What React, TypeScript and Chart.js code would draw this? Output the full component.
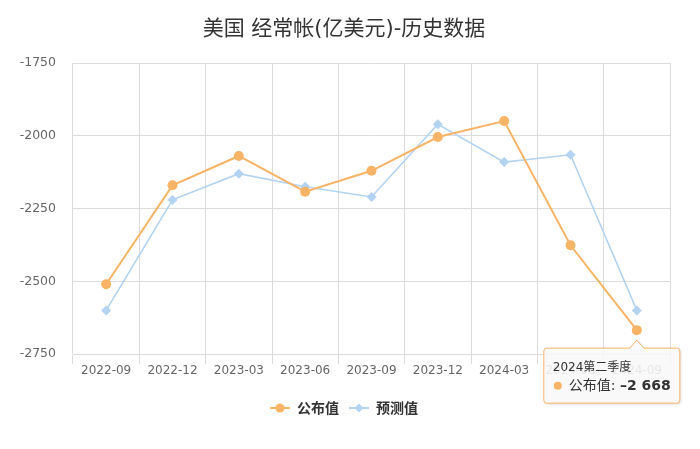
import React, { useEffect, useRef } from "react";
import { Chart, registerables } from "chart.js";

Chart.register(...registerables);

const categories = [
  "2022-09",
  "2022-12",
  "2023-03",
  "2023-06",
  "2023-09",
  "2023-12",
  "2024-03",
  "2024-06",
  "2024-09",
];
const publishedValues = [-2510, -2170, -2069, -2192, -2120, -2004, -1949, -2376, -2668];
const forecastValues = [-2600, -2220, -2130, -2175, -2210, -1960, -2090, -2065, -2600];
const seriesNames = ["公布值", "预测值"];
const yMin = -2750;
const yMax = -1750;
const yStep = 250;
const titleText = "美国 经常帐(亿美元)-历史数据";
const tooltipTitle = "2024第二季度";
const tooltipIndex = 8;

const ORANGE = "#f8b466";
const BLUE = "#b3d3f2";
const GRID = "#dcdcdc";
const LATIN = '"DejaVu Sans", "Noto Sans CJK SC", sans-serif';
const CJK = '"Noto Sans CJK SC", "DejaVu Sans", sans-serif';

function fmt(v: number): string {
  const s = Math.abs(v)
    .toString()
    .replace(/\B(?=(\d{3})+(?!\d))/g, " ");
  return (v < 0 ? "–" : "") + s;
}

function makeIcon(color: string, shape: "circle" | "diamond"): HTMLCanvasElement {
  const c = document.createElement("canvas");
  c.width = 20;
  c.height = 12;
  const ctx = c.getContext("2d")!;
  ctx.strokeStyle = color;
  ctx.lineWidth = 2;
  ctx.beginPath();
  ctx.moveTo(0, 6);
  ctx.lineTo(20, 6);
  ctx.stroke();
  ctx.fillStyle = color;
  ctx.beginPath();
  if (shape === "circle") {
    ctx.arc(10, 6, 4.5, 0, Math.PI * 2);
  } else {
    ctx.moveTo(10, 1.5);
    ctx.lineTo(14.5, 6);
    ctx.lineTo(10, 10.5);
    ctx.lineTo(5.5, 6);
    ctx.closePath();
  }
  ctx.fill();
  return c;
}

const staticTooltip = {
  id: "staticTooltip",
  afterDraw(chart: any) {
    const meta = chart.getDatasetMeta(0);
    const pt = meta.data[tooltipIndex];
    if (!pt) return;
    const x = pt.x;
    const y = pt.y;
    const ctx = chart.ctx as CanvasRenderingContext2D;
    const w = 136;
    const h = 55;
    const left = x - 93;
    const top = y + 18;
    const apexY = y + 10;
    const r = 3;
    ctx.save();
    ctx.beginPath();
    ctx.moveTo(left + r, top);
    ctx.lineTo(x - 7, top);
    ctx.lineTo(x, apexY);
    ctx.lineTo(x + 7, top);
    ctx.lineTo(left + w - r, top);
    ctx.arcTo(left + w, top, left + w, top + r, r);
    ctx.lineTo(left + w, top + h - r);
    ctx.arcTo(left + w, top + h, left + w - r, top + h, r);
    ctx.lineTo(left + r, top + h);
    ctx.arcTo(left, top + h, left, top + h - r, r);
    ctx.lineTo(left, top + r);
    ctx.arcTo(left, top, left + r, top, r);
    ctx.closePath();
    ctx.shadowColor = "rgba(0,0,0,0.18)";
    ctx.shadowOffsetX = 1;
    ctx.shadowOffsetY = 1;
    ctx.shadowBlur = 3;
    ctx.fillStyle = "rgba(254,254,254,0.86)";
    ctx.fill();
    ctx.shadowColor = "transparent";
    ctx.lineWidth = 1;
    ctx.strokeStyle = ORANGE;
    ctx.stroke();

    ctx.textBaseline = "middle";
    ctx.textAlign = "left";
    ctx.fillStyle = "#333";
    ctx.font = `12px ${LATIN}`;
    ctx.fillText(tooltipTitle, left + 9, top + 20);

    ctx.fillStyle = ORANGE;
    ctx.beginPath();
    ctx.arc(left + 14, top + 37.5, 4, 0, Math.PI * 2);
    ctx.fill();

    ctx.fillStyle = "#333";
    ctx.font = `14px ${LATIN}`;
    const label = seriesNames[0] + ": ";
    ctx.fillText(label, left + 25, top + 38);
    const lw = ctx.measureText(label).width;
    ctx.font = `bold 14px ${LATIN}`;
    ctx.fillText(fmt(publishedValues[tooltipIndex]), left + 25 + lw, top + 38);
    ctx.restore();
  },
};

export default function App() {
  const ref = useRef<HTMLCanvasElement | null>(null);

  useEffect(() => {
    document.body.style.margin = "0";
    const canvas = ref.current;
    if (!canvas) return;
    const icons = [makeIcon(ORANGE, "circle"), makeIcon(BLUE, "diamond")];
    const colors = [ORANGE, BLUE];

    const chart = new Chart(canvas, {
      type: "line",
      data: {
        labels: categories,
        datasets: [
          {
            label: seriesNames[0],
            data: publishedValues,
            borderColor: ORANGE,
            backgroundColor: ORANGE,
            borderWidth: 2,
            pointStyle: "circle",
            pointRadius: 5,
            pointBorderWidth: 0,
            pointBackgroundColor: ORANGE,
            tension: 0,
          },
          {
            label: seriesNames[1],
            data: forecastValues,
            borderColor: BLUE,
            backgroundColor: BLUE,
            borderWidth: 1.6,
            pointStyle: "rectRot",
            pointRadius: 5,
            pointBorderWidth: 0,
            pointBackgroundColor: BLUE,
            tension: 0,
          },
        ],
      },
      options: {
        responsive: false,
        animation: false,
        events: [],
        layout: { padding: { left: 18, right: 30, top: 0, bottom: 24 } },
        scales: {
          x: {
            offset: true,
            grid: {
              offset: true,
              color: GRID,
              tickLength: 10,
              drawTicks: true,
            },
            border: { display: true, color: GRID },
            ticks: {
              color: "#666",
              font: { family: LATIN, size: 12 },
              padding: 0,
              maxRotation: 0,
              autoSkip: false,
            },
            afterFit(scale: any) {
              scale.height = 37;
            },
          },
          y: {
            min: yMin,
            max: yMax,
            grid: { color: GRID, drawTicks: false },
            border: { display: false },
            ticks: {
              stepSize: yStep,
              color: "#666",
              font: { family: LATIN, size: 12.5 },
              padding: 17,
              callback: (v: any) => String(v),
            },
            afterFit(scale: any) {
              scale.width = 55;
            },
          },
        },
        plugins: {
          tooltip: { enabled: false },
          title: {
            display: true,
            text: titleText,
            color: "#333",
            font: { family: LATIN, size: 21, weight: "normal", lineHeight: 1.2 },
            padding: { top: 17, bottom: 21 },
          },
          legend: {
            display: true,
            position: "bottom",
            labels: {
              usePointStyle: true,
              pointStyleWidth: 20,
              padding: 10,
              color: "#333",
              font: { family: CJK, size: 14, weight: "bold" },
              generateLabels: (ch: any) =>
                ch.data.datasets.map((ds: any, i: number) => ({
                  text: ds.label,
                  pointStyle: icons[i],
                  fillStyle: colors[i],
                  strokeStyle: colors[i],
                  lineWidth: 0,
                  hidden: false,
                  datasetIndex: i,
                  fontColor: "#333",
                })),
            },
          },
        },
      },
      plugins: [staticTooltip],
    } as any);

    return () => {
      chart.destroy();
    };
  }, []);

  return (
    <div style={{ width: 700, height: 449, background: "#fff" }}>
      <canvas ref={ref} width={700} height={449} />
    </div>
  );
}
